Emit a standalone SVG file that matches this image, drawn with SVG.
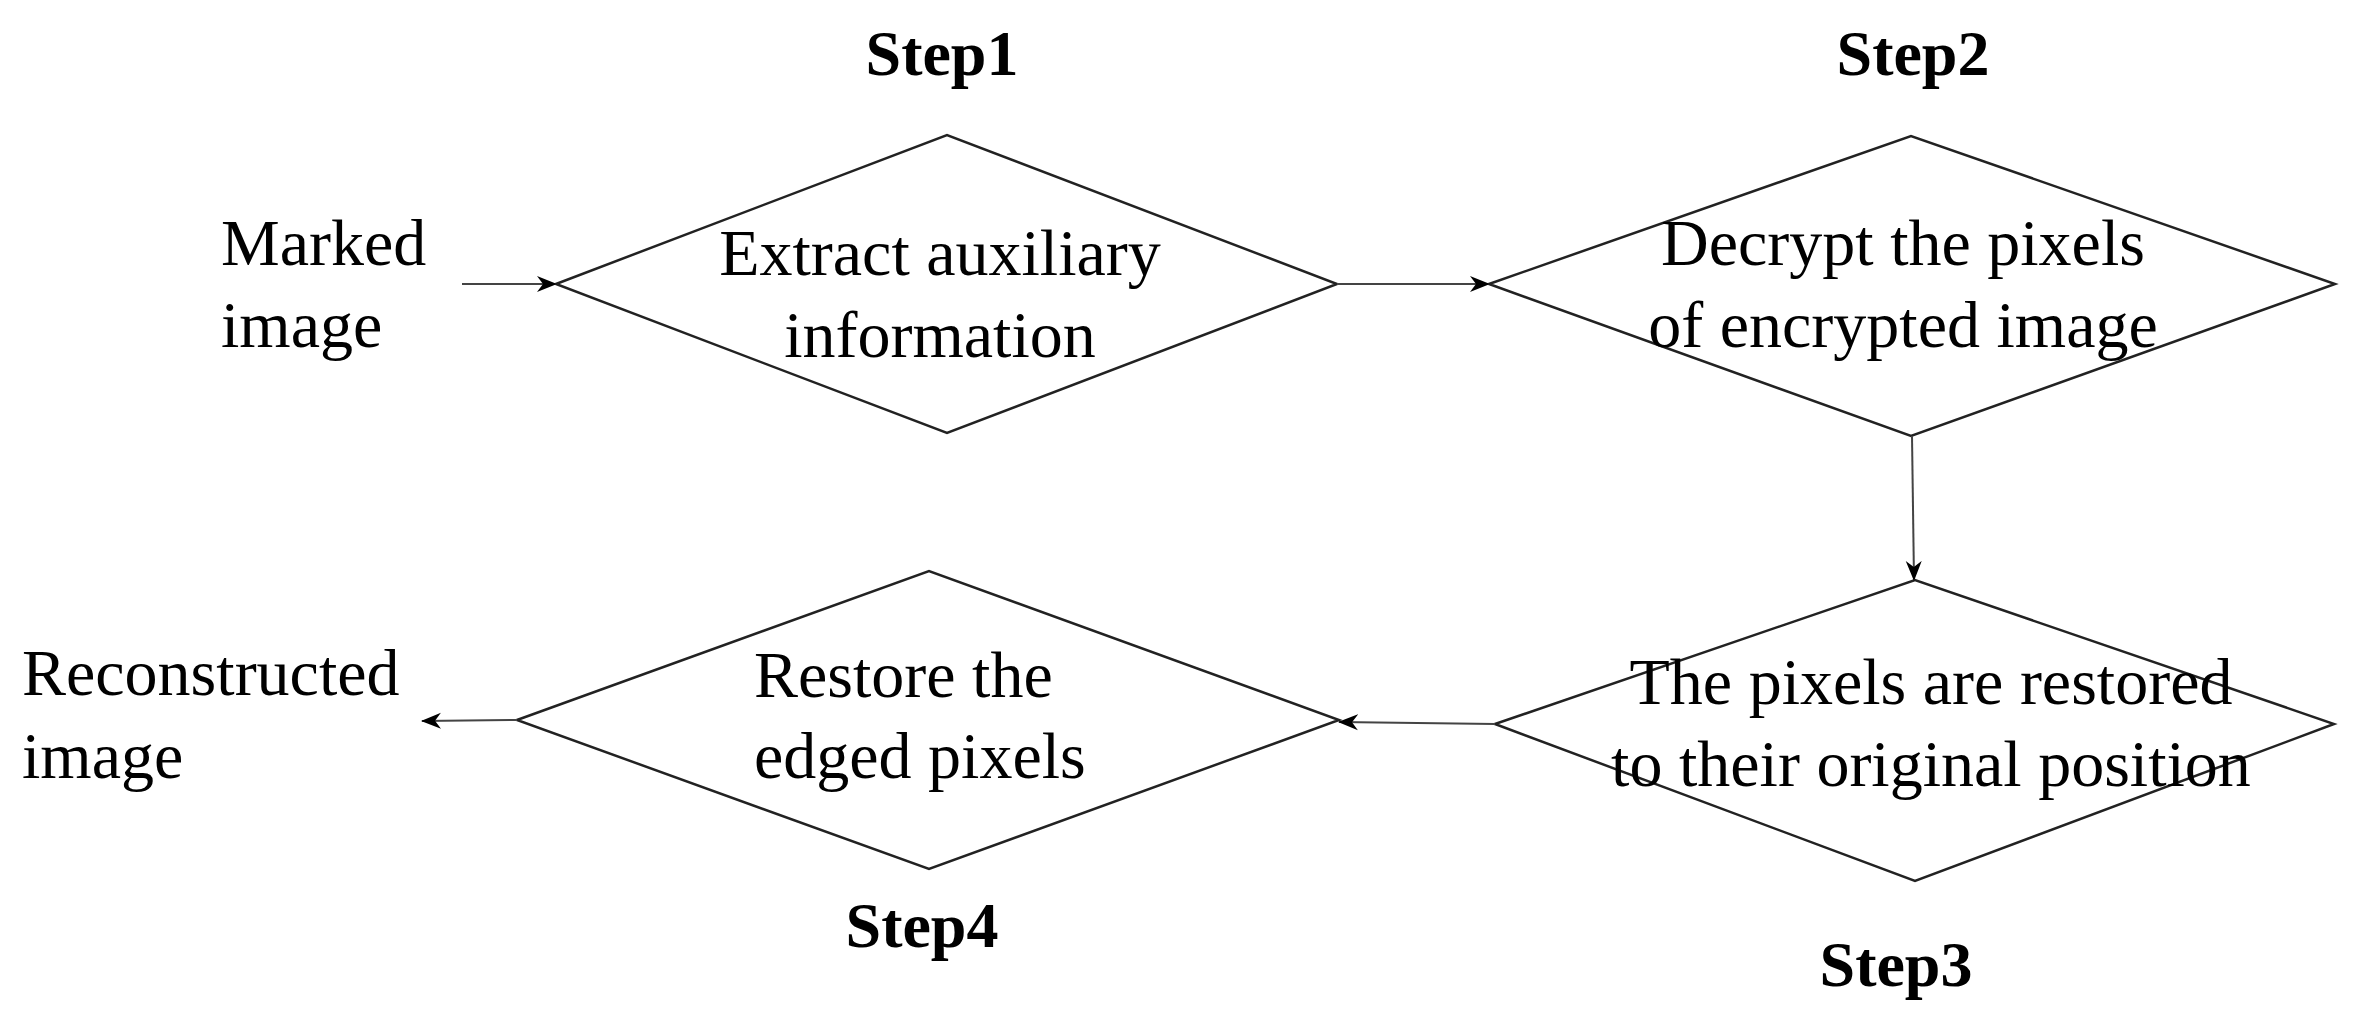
<svg xmlns="http://www.w3.org/2000/svg" width="2356" height="1015" viewBox="0 0 2356 1015">
<style>
.t{font-family:"Liberation Serif","Times New Roman",serif;font-size:66px;fill:#000}
.b{font-family:"Liberation Serif","Times New Roman",serif;font-size:64px;font-weight:bold;fill:#000}
.d{fill:none;stroke:#222;stroke-width:2.5}
.c{fill:none;stroke:#444;stroke-width:2}
</style>
<defs>
<marker id="ah" viewBox="0 0 20 20" refX="19" refY="10" markerWidth="20" markerHeight="20" markerUnits="userSpaceOnUse" orient="auto">
<path d="M0,2 L20,10 L0,18 L6,10 Z" fill="#000"/>
</marker>
</defs>
<g id="input"><text class="t" x="221" y="265">Marked</text><text class="t" x="221" y="347">image</text></g>
<g id="step1"><polygon class="d" points="556,284 947,135 1337,284 947,433"/>
<text class="t" x="940" y="275" text-anchor="middle">Extract auxiliary</text>
<text class="t" x="940" y="357" text-anchor="middle">information</text>
<text class="b" x="942" y="75" text-anchor="middle">Step1</text></g>
<g id="step2"><polygon class="d" points="1489,284 1911,136 2335,284 1911,436"/>
<text class="t" x="1903" y="265" text-anchor="middle">Decrypt the pixels</text>
<text class="t" x="1903" y="347" text-anchor="middle">of encrypted image</text>
<text class="b" x="1913" y="75" text-anchor="middle">Step2</text></g>
<g id="step3"><polygon class="d" points="1495,724 1915,580 2334,724 1915,881"/>
<text class="t" x="1931" y="704" text-anchor="middle">The pixels are restored</text>
<text class="t" x="1931" y="786" text-anchor="middle">to their original position</text>
<text class="b" x="1896" y="986" text-anchor="middle">Step3</text></g>
<g id="step4"><polygon class="d" points="517,720 929,571 1339,720 929,869"/>
<text class="t" x="754" y="697">Restore the</text>
<text class="t" x="754" y="778">edged pixels</text>
<text class="b" x="922" y="947" text-anchor="middle">Step4</text></g>
<g id="output"><text class="t" x="22" y="695">Reconstructed</text><text class="t" x="22" y="778">image</text></g>
<g id="connectors">
<line class="c" x1="462" y1="284" x2="556" y2="284" marker-end="url(#ah)"/>
<line class="c" x1="1337" y1="284" x2="1489" y2="284" marker-end="url(#ah)"/>
<line class="c" x1="1912" y1="436" x2="1914" y2="580" marker-end="url(#ah)"/>
<line class="c" x1="1495" y1="724" x2="1339" y2="722" marker-end="url(#ah)"/>
<line class="c" x1="517" y1="720" x2="422" y2="721" marker-end="url(#ah)"/>
</g>
</svg>
